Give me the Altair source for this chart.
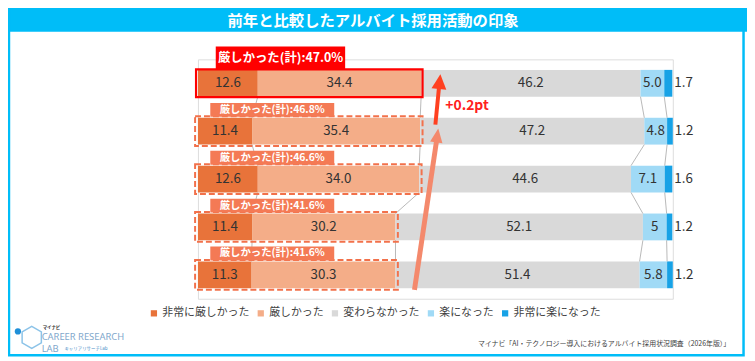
import json
import altair as alt
import pandas as pd

# ---------------- data ----------------
years = ["2025年全体(n=1,500)", "2024年全体(n=1,500)", "2023年全体(n=1,500)",
         "2022年全体(n=1,500)", "2021年全体(n=1,500)"]
categories = ["非常に厳しかった", "厳しかった", "変わらなかった", "楽になった", "非常に楽になった"]
very_hard = [12.6, 11.4, 12.6, 11.4, 11.3]
hard = [34.4, 35.4, 34.0, 30.2, 30.3]
same = [46.2, 47.2, 44.6, 52.1, 51.4]
easier = [5.0, 4.8, 7.1, 5.0, 5.8]
much_easier = [1.7, 1.2, 1.6, 1.2, 1.2]
easier_labels = ["5.0", "4.8", "7.1", "5", "5.8"]
axis_ticks = [0, 50, 100]
change_label = "+0.2pt"
title_text = "前年と比較したアルバイト採用活動の印象"
source_text = "マイナビ「AI・テクノロジー導入におけるアルバイト採用状況調査（2026年版）」"

colors = ["#E8733A", "#F4AD88", "#D9D9D9", "#A0DAF6", "#17A2E6"]
series = [very_hard, hard, same, easier, much_easier]

# ---------------- tables ----------------
HALF = 0.28
rows = []
for i, yr in enumerate(years):
    cum = 0.0
    for k, (cat, vals) in enumerate(zip(categories, series)):
        v = vals[i]
        lab = easier_labels[i] if k == 3 else f"{v:.1f}"
        rows.append(dict(year=yr, idx=i, cat=cat, k=k, start=cum, end=cum + v,
                         mid=cum + v / 2, label=lab, y0=i - HALF, y1=i + HALF))
        cum += v
bars = pd.DataFrame(rows)

# series (connector) lines between consecutive bars
conn = []
for i in range(len(years) - 1):
    for k in range(len(categories) - 1):
        a = bars[(bars.idx == i) & (bars.k == k)].iloc[0]
        b = bars[(bars.idx == i + 1) & (bars.k == k)].iloc[0]
        conn.append(dict(x=a.end, x2=b.end, y=i + HALF, y2=i + 1 - HALF))
conn = pd.DataFrame(conn)

totals = [round(a + b, 1) for a, b in zip(very_hard, hard)]
tot = pd.DataFrame(dict(idx=list(range(len(years))), total=totals,
                        text=[f"厳しかった(計):{t:.1f}%" for t in totals]))
tot["latest"] = tot.idx == 0
latest = tot[tot.latest].copy()
older = tot[~tot.latest].copy()
latest["bx0"], latest["bx1"] = 3.75, 31.0
latest["by0"], latest["by1"] = latest.idx - 0.77, latest.idx - HALF
latest["tx"], latest["ty"] = 17.4, latest.idx - 0.525
latest["ox0"], latest["ox1"] = -0.4, latest.total + 0.3
latest["oy0"], latest["oy1"] = latest.idx - 0.29, latest.idx + 0.29
older["bx0"], older["bx1"] = 2.6, 28.7
older["by0"], older["by1"] = older.idx - 0.59, older.idx - 0.30
older["tx"], older["ty"] = 15.65, older.idx - 0.445
older["ox0"], older["ox1"] = -0.6, older.total + 0.5
older["oy0"], older["oy1"] = older.idx - 0.31, older.idx + 0.31

one = pd.DataFrame({"a": [0]})

# ---------------- scales ----------------
xs = alt.Scale(domain=[0, 100], nice=False, zero=False)
ys = alt.Scale(domain=[-0.5, 4.5], reverse=True, nice=False, zero=False)
FONT = "Noto Sans CJK JP"

xaxis = alt.Axis(orient="top", values=axis_ticks, labelExpr="datum.value + '%'",
                 grid=True, gridColor="#D0D0D0", gridWidth=1, domain=False, ticks=False,
                 labelFontSize=11, labelColor="#595959", labelPadding=4, title=None,
                 labelFont=FONT)
yaxis = alt.Axis(values=list(range(len(years))),
                 labelExpr=json.dumps(years, ensure_ascii=False) + "[datum.value]",
                 grid=False, domain=False, ticks=False, labelFontSize=13,
                 labelColor="#333333", labelPadding=8, title=None, labelFont=FONT)

bar_layer = alt.Chart(bars).mark_bar(strokeWidth=0).encode(
    x=alt.X("start:Q", scale=xs, axis=xaxis),
    x2="end:Q",
    y=alt.Y("y0:Q", scale=ys, axis=yaxis),
    y2="y1:Q",
    color=alt.Color("cat:N", scale=alt.Scale(domain=categories, range=colors),
                    sort=categories,
                    legend=alt.Legend(orient="none", legendX=-50, legendY=251,
                                      direction="horizontal", columns=5, title=None,
                                      symbolType="square", symbolSize=40,
                                      symbolStrokeWidth=0, labelFontSize=11,
                                      labelColor="#404040", labelFont=FONT,
                                      columnPadding=6, labelOffset=3)),
)

conn_layer = alt.Chart(conn).mark_rule(color="#A6A6A6", strokeWidth=0.8).encode(
    x=alt.X("x:Q", scale=xs, axis=None), x2="x2:Q",
    y=alt.Y("y:Q", scale=ys, axis=None), y2="y2:Q")

outline_latest = alt.Chart(latest).mark_rect(fillOpacity=0, stroke="#FF0000", strokeWidth=2.2).encode(
    x=alt.X("ox0:Q", scale=xs, axis=None), x2="ox1:Q",
    y=alt.Y("oy0:Q", scale=ys, axis=None), y2="oy1:Q")
outline_older = alt.Chart(older).mark_rect(fillOpacity=0, stroke="#F2714B", strokeWidth=2,
                                           strokeDash=[6, 3]).encode(
    x=alt.X("ox0:Q", scale=xs, axis=None), x2="ox1:Q",
    y=alt.Y("oy0:Q", scale=ys, axis=None), y2="oy1:Q")

box_latest = alt.Chart(latest).mark_rect(color="#FF0000").encode(
    x=alt.X("bx0:Q", scale=xs, axis=None), x2="bx1:Q",
    y=alt.Y("by0:Q", scale=ys, axis=None), y2="by1:Q")
box_older = alt.Chart(older).mark_rect(color="#F47A55").encode(
    x=alt.X("bx0:Q", scale=xs, axis=None), x2="bx1:Q",
    y=alt.Y("by0:Q", scale=ys, axis=None), y2="by1:Q")
boxtext_latest = alt.Chart(latest).mark_text(color="white", fontSize=12.5, fontWeight="bold",
                                             font=FONT, baseline="middle").encode(
    x=alt.X("tx:Q", scale=xs, axis=None), y=alt.Y("ty:Q", scale=ys, axis=None), text="text:N")
boxtext_older = alt.Chart(older).mark_text(color="white", fontSize=10.5, fontWeight="bold",
                                           font=FONT, baseline="middle").encode(
    x=alt.X("tx:Q", scale=xs, axis=None), y=alt.Y("ty:Q", scale=ys, axis=None), text="text:N")

inner = bars[bars.k < 4]
outer = bars[bars.k == 4]
val_inner = alt.Chart(inner).mark_text(color="#333333", fontSize=13.5, font=FONT,
                                       baseline="middle").encode(
    x=alt.X("mid:Q", scale=xs, axis=None), y=alt.Y("idx:Q", scale=ys, axis=None), text="label:N")
val_outer = alt.Chart(outer).mark_text(color="#333333", fontSize=13.5, font=FONT,
                                       baseline="middle", align="left", dx=2).encode(
    x=alt.X("end:Q", scale=xs, axis=None), y=alt.Y("idx:Q", scale=ys, axis=None), text="label:N")

# arrows (annotation geometry, in data units)
SALMON = "#F4896C"
RED_ARROW = "#FF4020"
arrow_a = alt.Chart(pd.DataFrame(dict(x=[45.6], x2=[50.23], y=[4.314], y2=[1.213]))).mark_rule(
    strokeCap="butt", color=SALMON, strokeWidth=5).encode(
    x=alt.X("x:Q", scale=xs, axis=None), x2="x2:Q",
    y=alt.Y("y:Q", scale=ys, axis=None), y2="y2:Q")
arrow_b = alt.Chart(pd.DataFrame(dict(x=[50.0], x2=[50.77], y=[0.864], y2=[0.0785]))).mark_rule(
    strokeCap="butt", color=RED_ARROW, strokeWidth=4).encode(
    x=alt.X("x:Q", scale=xs, axis=None), x2="x2:Q",
    y=alt.Y("y:Q", scale=ys, axis=None), y2="y2:Q")
head_a = alt.Chart(pd.DataFrame(dict(x=[50.4], y=[1.089]))).mark_point(
    shape="M0,-1L0.9,1L-0.9,1Z", filled=True, size=196, angle=8.4, color=SALMON, opacity=1,
    strokeWidth=0).encode(x=alt.X("x:Q", scale=xs, axis=None), y=alt.Y("y:Q", scale=ys, axis=None))
head_b = alt.Chart(pd.DataFrame(dict(x=[50.9], y=[-0.035]))).mark_point(
    shape="M0,-1L1,1L-1,1Z", filled=True, size=225, angle=5.6, color=RED_ARROW, opacity=1,
    strokeWidth=0).encode(x=alt.X("x:Q", scale=xs, axis=None), y=alt.Y("y:Q", scale=ys, axis=None))
change_txt = alt.Chart(pd.DataFrame(dict(x=[52.1], y=[0.471], t=[change_label]))).mark_text(
    color="#FF2020", fontSize=14, fontWeight="bold", font=FONT, align="left", baseline="middle").encode(
    x=alt.X("x:Q", scale=xs, axis=None), y=alt.Y("y:Q", scale=ys, axis=None), text="t:N")

# ---------------- decorations (pixel offsets from plot origin) ----------------
BLUE = "#00BDF8"
band = alt.Chart(one).mark_rect(color=BLUE).encode(
    x=alt.value(-200), x2=alt.value(555), y=alt.value(-60), y2=alt.value(-28))
frame = alt.Chart(one).mark_rect(fillOpacity=0, stroke=BLUE, strokeWidth=2.5).encode(
    x=alt.value(-191), x2=alt.value(551.5), y=alt.value(-56), y2=alt.value(299))
title = alt.Chart(one).mark_text(text=title_text, color="white", fontSize=15.5, fontWeight="bold",
                                 font=FONT, baseline="middle").encode(
    x=alt.value(177), y=alt.value(-38.5))
source = alt.Chart(one).mark_text(text=source_text, color="#404040", fontSize=7, font=FONT,
                                  align="right", baseline="middle").encode(
    x=alt.value(538), y=alt.value(288))
logo_dot = alt.Chart(one).mark_point(shape="circle", filled=True, size=40, color="#1E8FD8",
                                     opacity=1).encode(x=alt.value(-182), y=alt.value(275))
logo_hex = alt.Chart(one).mark_point(shape="M0,-1L0.87,-0.5L0.87,0.5L0,1L-0.87,0.5L-0.87,-0.5Z",
                                     filled=False, size=500, color="#8CC3E8", strokeWidth=1.5,
                                     opacity=1).encode(x=alt.value(-168), y=alt.value(281))
logo_t1 = alt.Chart(one).mark_text(text="マイナビ", color="#333333", fontSize=4.5, font=FONT,
                                   align="left", baseline="middle", fontWeight="bold").encode(
    x=alt.value(-157), y=alt.value(272))
logo_t2 = alt.Chart(one).mark_text(text="CAREER RESEARCH", color="#7FA8CC", fontSize=9.5,
                                   font="Noto Sans", align="left", baseline="middle").encode(
    x=alt.value(-158), y=alt.value(281))
logo_t3 = alt.Chart(one).mark_text(text="LAB", color="#7FA8CC", fontSize=9.5,
                                   font="Noto Sans", align="left", baseline="middle").encode(
    x=alt.value(-158), y=alt.value(293))
logo_t4 = alt.Chart(one).mark_text(text="キャリアリサーチLab", color="#4A90C8", fontSize=4.5,
                                   font=FONT, align="left", baseline="middle").encode(
    x=alt.value(-135), y=alt.value(293))

chart = alt.layer(
    band, frame, title,
    bar_layer, conn_layer, outline_older, outline_latest,
    box_older, box_latest, boxtext_older, boxtext_latest,
    val_inner, val_outer,
    arrow_a, arrow_b, head_a, head_b, change_txt,
    source, logo_hex, logo_dot, logo_t1, logo_t2, logo_t3, logo_t4,
).properties(
    width=480, height=242,
    padding={"left": 192, "top": 50, "right": 75, "bottom": 61},
    autosize=alt.AutoSizeParams(type="none"),
    background="white",
).configure_view(stroke=None).configure(font=FONT)

chart.save("out.html", embed_options={"renderer": "svg", "actions": False})
